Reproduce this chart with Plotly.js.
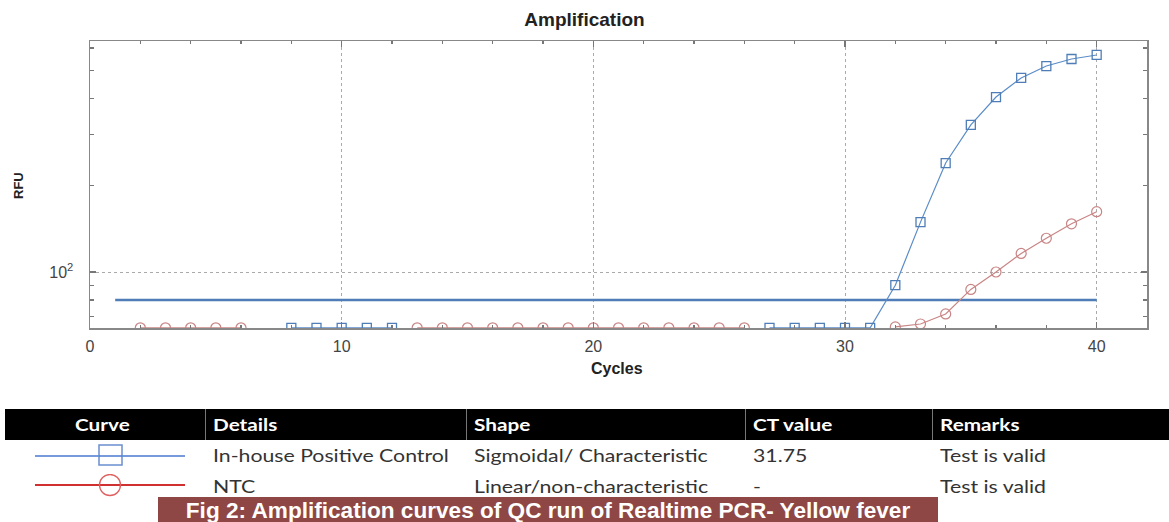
<!DOCTYPE html>
<html>
<head>
<meta charset="utf-8">
<script src="https://cdn.plot.ly/plotly-3.0.1.min.js"></script>
<style>
  html, body { margin: 0; padding: 0; background: #fff; width: 1169px; height: 522px; overflow: hidden; }
  #chart { position: absolute; left: 0; top: 0; width: 1169px; height: 400px; }
  #tbl { position: absolute; left: 5px; top: 409px; width: 1164px; font-family: Lato, "Noto Sans", sans-serif; font-size: 17px; color: #333; }
  .hdr { position: absolute; top: 0; height: 31px; background: #000; width: 1164px; }
  .hcell { position: absolute; top: 0; height: 31px; line-height: 31px; color: #fff; font-weight: bold; transform: scaleX(1.22); transform-origin: left center; white-space: nowrap; }
  .sep { position: absolute; top: 0; width: 1px; height: 31px; background: #777; }
  .cell { position: absolute; line-height: 20px; white-space: nowrap; }
  .txt { transform: scaleX(1.25); transform-origin: left center; }
  #cap { position: absolute; left: 158px; top: 497px; width: 780px; height: 25px; background: #8e4744; color: #fff; font-family: "Liberation Sans", Arial, sans-serif; font-weight: bold; font-size: 22.6px; line-height: 27px; text-align: center; white-space: nowrap; }
</style>
</head>
<body>
<div id="chart"></div>
<div id="tbl"></div>
<div id="cap"></div>
<script>
// ---- data ----
const cycles = [1,2,3,4,5,6,7,8,9,10,11,12,13,14,15,16,17,18,19,20,21,22,23,24,25,26,27,28,29,30,31,32,33,34,35,36,37,38,39,40];
// In-house positive control (blue squares); null = not drawn
const positiveRFU = [null,null,null,null,null,null,null,64,64,64,64,64,null,null,null,null,null,null,null,null,null,null,null,null,null,null,64,64,64,64,64,90,149,239,324,405,472,519,549,567];
// NTC (red circles)
const ntcRFU = [null,64,64,64,64,64,null,null,null,null,null,null,64,64,64,64,64,64,64,64,64,64,64,64,64,64,null,null,null,null,null,64.5,66,71.5,87,100,116,131,147,162];
const thresholdCycles = [1, 40];
const thresholdRFU = [80, 80];
const xTickVals = [0, 10, 20, 30, 40];
const yTickVals = [100];
const yTickText = ['10<sup>2</sup>'];
const yMinorVals = [70, 80, 90, 200, 300, 400, 500, 600];

const tableHeaders = ['Curve', 'Details', 'Shape', 'CT value', 'Remarks'];
const rowDetails = ['In-house Positive Control', 'NTC'];
const rowShapes = ['Sigmoidal/ Characteristic', 'Linear/non-characteristic'];
const rowCT = ['31.75', '-'];
const rowRemarks = ['Test is valid', 'Test is valid'];
const caption = 'Fig 2: Amplification curves of QC run of Realtime PCR- Yellow fever';

// ---- chart ----
const blue = '#5b8cc8', red = '#c98585';
const traces = [
  { x: thresholdCycles, y: thresholdRFU, mode: 'lines', line: { color: '#4f7db8', width: 2.5 }, hoverinfo: 'skip' },
  { x: cycles, y: ntcRFU, mode: 'lines+markers', connectgaps: false,
    line: { color: red, width: 1.2 }, marker: { symbol: 'circle-open', size: 10, color: red, line: { width: 1.2 } } },
  { x: cycles, y: positiveRFU, mode: 'lines+markers', connectgaps: false,
    line: { color: blue, width: 1.2 }, marker: { symbol: 'square-open', size: 9, color: '#4f7db8', line: { width: 1.3 } } }
];
const axisFont = { family: 'Liberation Sans, Arial, sans-serif', size: 16, color: '#444' };
const layout = {
  width: 1169, height: 400,
  margin: { l: 90, r: 22, t: 41, b: 72 },
  paper_bgcolor: '#fff', plot_bgcolor: '#fff',
  showlegend: false,
  title: { text: '<b>Amplification</b>', xref: 'container', x: 0.5, xanchor: 'center', y: 1 - 19/400, yanchor: 'middle',
           font: { family: 'Liberation Sans, Arial, sans-serif', size: 19, color: '#222' } },
  xaxis: {
    range: [0, 42], tickvals: xTickVals, ticks: 'inside', ticklen: 6, tickwidth: 1.2, tickcolor: '#777',
    showline: true, linecolor: '#888', linewidth: 1.5, mirror: 'allticks', zeroline: false,
    showgrid: true, gridcolor: '#aaa', griddash: 'dot', gridwidth: 1,
    minor: { dtick: 2, ticks: 'inside', ticklen: 3, tickcolor: '#777', showgrid: false },
    tickfont: axisFont, ticklabelstandoff: 3
  },
  yaxis: {
    type: 'log', range: [1.8056, 2.8021], tickvals: yTickVals, ticktext: yTickText,
    ticks: 'inside', ticklen: 6, tickwidth: 1.2, tickcolor: '#777',
    showline: true, linecolor: '#888', linewidth: 1.5, mirror: 'allticks', zeroline: false,
    showgrid: true, gridcolor: '#aaa', griddash: 'dot', gridwidth: 1,
    minor: { tickvals: yMinorVals, ticks: 'inside', ticklen: 4, tickcolor: '#777', showgrid: false },
    tickfont: axisFont, ticklabelstandoff: 12
  },
  annotations: [
    { text: '<b>RFU</b>', xref: 'paper', yref: 'paper', x: (18 - 90) / 1057, y: (328 - 185) / 287,
      xanchor: 'center', yanchor: 'middle',
      textangle: -90, showarrow: false, font: { family: 'Liberation Sans, Arial, sans-serif', size: 13, color: '#222' } },
    { text: '<b>Cycles</b>', xref: 'paper', yref: 'paper', x: (617 - 90) / 1057, y: (328 - 368) / 287,
      xanchor: 'center', yanchor: 'middle',
      showarrow: false, font: { family: 'Liberation Sans, Arial, sans-serif', size: 16, color: '#222' } }
  ]
};
Plotly.newPlot('chart', traces, layout, { staticPlot: true });

// ---- table ----
const tbl = document.getElementById('tbl');
const colX = [0, 208, 469, 748, 935];
const sepX = [200, 461, 740, 927];
let html = '<div class="hdr"></div>';
tableHeaders.forEach((h, i) => {
  if (i === 0) html += `<div class="hcell" style="left:70px">${h}</div>`;
  else html += `<div class="hcell" style="left:${colX[i]}px">${h}</div>`;
});
sepX.forEach(x => { html += `<div class="sep" style="left:${x}px"></div>`; });
const rowY = [37, 68];
const icons = [
  `<svg width="160" height="26"><line x1="0" y1="13" x2="150" y2="13" stroke="#4a78d0" stroke-width="1.5"/><rect x="64" y="2" width="23" height="20" fill="#fff" stroke="#6a8fd0" stroke-width="1.5"/><line x1="64" y1="13" x2="87" y2="13" stroke="#4a78d0" stroke-width="1.5"/></svg>`,
  `<svg width="160" height="26"><line x1="0" y1="11" x2="150" y2="11" stroke="#d03030" stroke-width="1.8"/><circle cx="75" cy="11" r="10.5" fill="none" stroke="#e06060" stroke-width="1.3"/></svg>`
];
for (let r = 0; r < 2; r++) {
  html += `<div class="cell" style="left:30px;top:${rowY[r] - 3}px">${icons[r]}</div>`;
  html += `<div class="cell txt" style="left:${colX[1]}px;top:${rowY[r]}px">${rowDetails[r]}</div>`;
  html += `<div class="cell txt" style="left:${colX[2]}px;top:${rowY[r]}px">${rowShapes[r]}</div>`;
  html += `<div class="cell txt" style="left:${colX[3]}px;top:${rowY[r]}px">${rowCT[r]}</div>`;
  html += `<div class="cell txt" style="left:${colX[4]}px;top:${rowY[r]}px">${rowRemarks[r]}</div>`;
}
tbl.innerHTML = html;
document.getElementById('cap').textContent = caption;
</script>
</body>
</html>
